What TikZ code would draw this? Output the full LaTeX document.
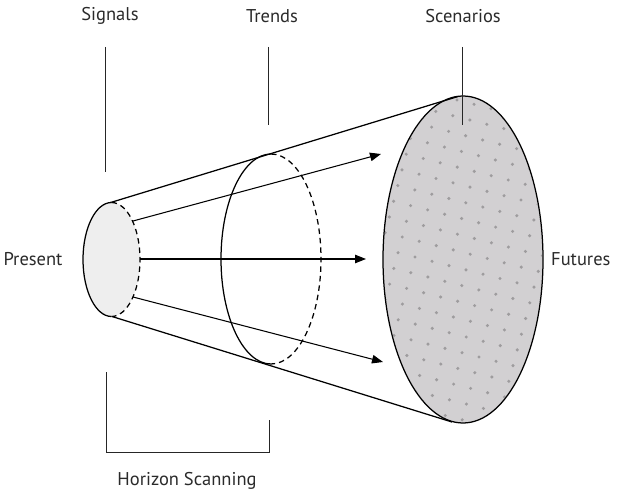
\documentclass[tikz,border=0pt]{standalone}
\usepackage{fontspec}
\setmainfont{PT Sans}
\usetikzlibrary{arrows.meta}
\definecolor{txt}{HTML}{2A2A2A}
\definecolor{conefill}{HTML}{EEEEEE}
\definecolor{bigfill}{HTML}{D2D0D2}
\definecolor{dotc}{HTML}{9E9C9E}
\tikzset{
  lbl/.style={font=\fontsize{18.5}{20}\selectfont, text=txt, inner sep=0pt},
  ln/.style={line width=1.25pt, black},
  thin/.style={line width=1pt, black!85},
  dsh/.style={line width=1.25pt, black, dash pattern=on 5.5pt off 4pt},
  arr/.style={line width=1.05pt, black, -{Triangle[length=11pt,width=8.5pt]}},
}
\begin{document}
\begin{tikzpicture}[x=1pt,y=-1pt]
\useasboundingbox (0,0) rectangle (621,492);
% labels
\node[lbl] (sig) at (110,16) {Signals};
\node[lbl] (tre) at (272,16) {Trends};
\node[lbl] (sce) at (463,16) {Scenarios};
\node[lbl] (pre) at (33,259) {Present};
\node[lbl,anchor=west] (fut) at (551,259) {Futures};
\node[lbl] (hor) at (187,481) {Horizon Scanning};
% big ellipse with dots
\coordinate (bigc) at (463,259.5);
\fill[bigfill] (bigc) ellipse [x radius=80, y radius=163.5];
\begin{scope}
\clip (bigc) ellipse [x radius=79, y radius=162.5];
\foreach \i in {-9,...,12}{
  \foreach \j in {-3,...,22}{
    \fill[dotc] ({457+17*\i-4.2*\j},{100+4.3*\i+15.7*\j}) circle (1.7);
  }
}
\end{scope}
% cone lines
\coordinate (st) at (109,203);
\coordinate (sb) at (112,316.5);
\coordinate (bt) at (458,96.5);
\coordinate (bb) at (452,422);
\draw[ln] (st) -- (bt);
\draw[ln] (sb) -- (bb);
\draw[ln] (bigc) ellipse [x radius=80, y radius=163.5];
% small ellipse
\coordinate (smc) at (111.5,259.5);
\fill[conefill] (smc) ellipse [x radius=28.5, y radius=57];
\draw[ln] (smc) ++(0,-57) arc[start angle=90, end angle=270, x radius=28.5, y radius=-57];
\draw[dsh] (smc) ++(0,-57) arc[start angle=90, end angle=-90, x radius=28.5, y radius=-57];
% middle ellipse
\coordinate (mc) at (271,259);
\draw[ln] (mc) ++(0,-105) arc[start angle=90, end angle=270, x radius=50, y radius=-105];
\draw[dsh] (mc) ++(0,-105) arc[start angle=90, end angle=-90, x radius=50, y radius=-105];
% arrows
\coordinate (a1s) at (133,221);
\coordinate (a1e) at (381,154);
\coordinate (a2s) at (140,259);
\coordinate (a2e) at (366,259);
\coordinate (a3s) at (133,297);
\coordinate (a3e) at (383,362);
\draw[arr] (a1s) -- (a1e);
\draw[arr] (a2s) -- (a2e);
\draw[arr] (a3s) -- (a3e);
% vertical guide lines
\coordinate (l1t) at (105,47); \coordinate (l1b) at (105,172);
\coordinate (l2t) at (268,47); \coordinate (l2b) at (268,125);
\coordinate (l3t) at (462,47); \coordinate (l3b) at (462,125);
\draw[thin] (l1t) -- (l1b);
\draw[thin] (l2t) -- (l2b);
\draw[thin] (l3t) -- (l3b);
% bracket
\coordinate (b1) at (106,372);
\coordinate (b2) at (106,452);
\coordinate (b3) at (269,452);
\coordinate (b4) at (269,420);
\draw[thin] (b1) -- (b2) -- (b3) -- (b4);
\end{tikzpicture}
\end{document}
